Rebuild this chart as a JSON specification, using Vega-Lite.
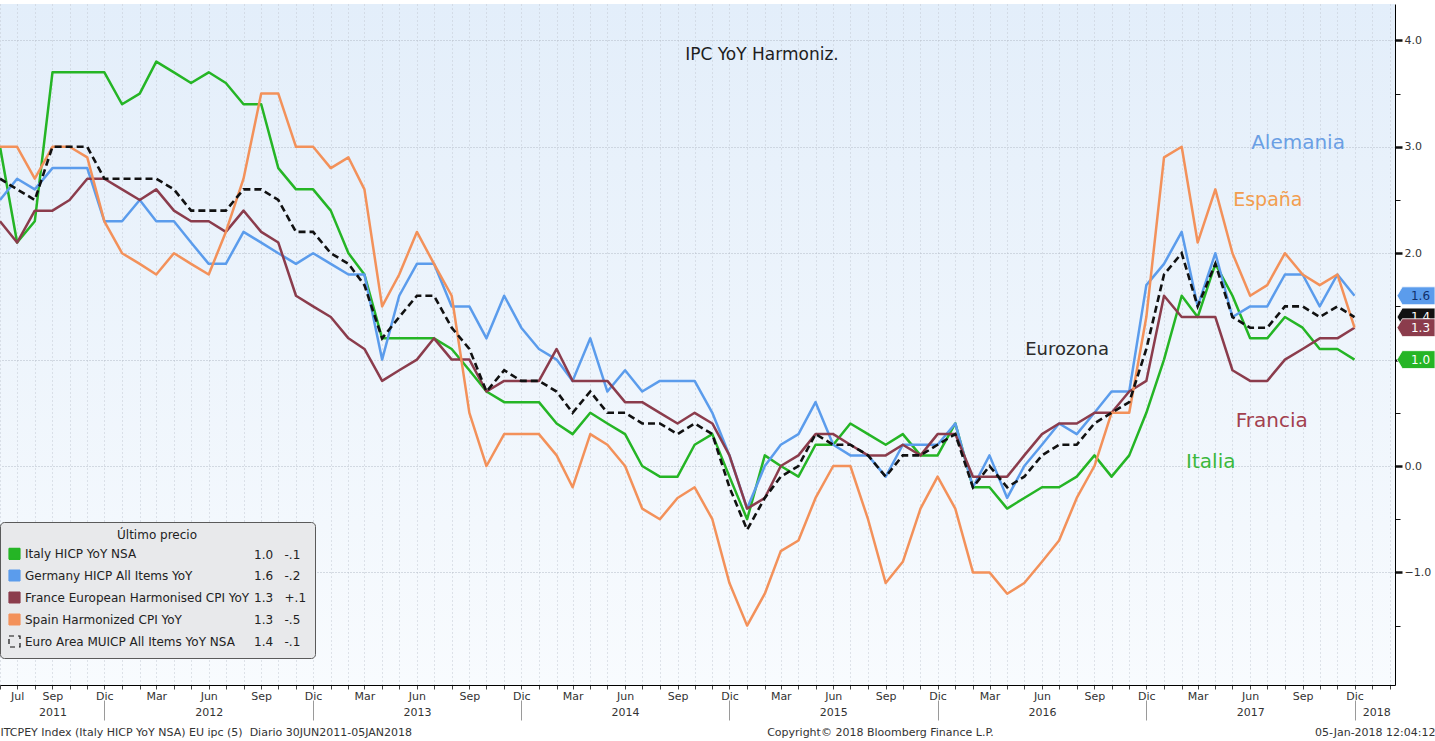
{
"$schema": "https://vega.github.io/schema/vega-lite/v6.json",
"width": 1395,
"height": 681,
"autosize": {"type": "none"},
"padding": {"left": 0, "top": 4, "right": 40, "bottom": 56},
"background": "#ffffff",
"config": {
  "font": "DejaVu Sans",
  "view": {"stroke": null, "fill": {"gradient": "linear", "x1": 0, "y1": 0, "x2": 0, "y2": 1, "stops": [{"offset": 0, "color": "#e3eefa"}, {"offset": 1, "color": "#f8fbfe"}]}}
},
"data": {
  "format": {"parse": {"d": "date:'%Y-%m'"}},
  "values": [
{"d":"2011-06","s":"Italy","v":3.0},{"d":"2011-07","s":"Italy","v":2.1},{"d":"2011-08","s":"Italy","v":2.3},{"d":"2011-09","s":"Italy","v":3.7},{"d":"2011-10","s":"Italy","v":3.7},{"d":"2011-11","s":"Italy","v":3.7},{"d":"2011-12","s":"Italy","v":3.7},
{"d":"2012-01","s":"Italy","v":3.4},{"d":"2012-02","s":"Italy","v":3.5},{"d":"2012-03","s":"Italy","v":3.8},{"d":"2012-04","s":"Italy","v":3.7},{"d":"2012-05","s":"Italy","v":3.6},{"d":"2012-06","s":"Italy","v":3.7},{"d":"2012-07","s":"Italy","v":3.6},{"d":"2012-08","s":"Italy","v":3.4},{"d":"2012-09","s":"Italy","v":3.4},{"d":"2012-10","s":"Italy","v":2.8},{"d":"2012-11","s":"Italy","v":2.6},{"d":"2012-12","s":"Italy","v":2.6},
{"d":"2013-01","s":"Italy","v":2.4},{"d":"2013-02","s":"Italy","v":2.0},{"d":"2013-03","s":"Italy","v":1.8},{"d":"2013-04","s":"Italy","v":1.2},{"d":"2013-05","s":"Italy","v":1.2},{"d":"2013-06","s":"Italy","v":1.2},{"d":"2013-07","s":"Italy","v":1.2},{"d":"2013-08","s":"Italy","v":1.1},{"d":"2013-09","s":"Italy","v":0.9},{"d":"2013-10","s":"Italy","v":0.7},{"d":"2013-11","s":"Italy","v":0.6},{"d":"2013-12","s":"Italy","v":0.6},
{"d":"2014-01","s":"Italy","v":0.6},{"d":"2014-02","s":"Italy","v":0.4},{"d":"2014-03","s":"Italy","v":0.3},{"d":"2014-04","s":"Italy","v":0.5},{"d":"2014-05","s":"Italy","v":0.4},{"d":"2014-06","s":"Italy","v":0.3},{"d":"2014-07","s":"Italy","v":0.0},{"d":"2014-08","s":"Italy","v":-0.1},{"d":"2014-09","s":"Italy","v":-0.1},{"d":"2014-10","s":"Italy","v":0.2},{"d":"2014-11","s":"Italy","v":0.3},{"d":"2014-12","s":"Italy","v":-0.1},
{"d":"2015-01","s":"Italy","v":-0.5},{"d":"2015-02","s":"Italy","v":0.1},{"d":"2015-03","s":"Italy","v":0.0},{"d":"2015-04","s":"Italy","v":-0.1},{"d":"2015-05","s":"Italy","v":0.2},{"d":"2015-06","s":"Italy","v":0.2},{"d":"2015-07","s":"Italy","v":0.4},{"d":"2015-08","s":"Italy","v":0.3},{"d":"2015-09","s":"Italy","v":0.2},{"d":"2015-10","s":"Italy","v":0.3},{"d":"2015-11","s":"Italy","v":0.1},{"d":"2015-12","s":"Italy","v":0.1},
{"d":"2016-01","s":"Italy","v":0.4},{"d":"2016-02","s":"Italy","v":-0.2},{"d":"2016-03","s":"Italy","v":-0.2},{"d":"2016-04","s":"Italy","v":-0.4},{"d":"2016-05","s":"Italy","v":-0.3},{"d":"2016-06","s":"Italy","v":-0.2},{"d":"2016-07","s":"Italy","v":-0.2},{"d":"2016-08","s":"Italy","v":-0.1},{"d":"2016-09","s":"Italy","v":0.1},{"d":"2016-10","s":"Italy","v":-0.1},{"d":"2016-11","s":"Italy","v":0.1},{"d":"2016-12","s":"Italy","v":0.5},
{"d":"2017-01","s":"Italy","v":1.0},{"d":"2017-02","s":"Italy","v":1.6},{"d":"2017-03","s":"Italy","v":1.4},{"d":"2017-04","s":"Italy","v":1.9},{"d":"2017-05","s":"Italy","v":1.6},{"d":"2017-06","s":"Italy","v":1.2},{"d":"2017-07","s":"Italy","v":1.2},{"d":"2017-08","s":"Italy","v":1.4},{"d":"2017-09","s":"Italy","v":1.3},{"d":"2017-10","s":"Italy","v":1.1},{"d":"2017-11","s":"Italy","v":1.1},{"d":"2017-12","s":"Italy","v":1.0},

{"d":"2011-06","s":"Germany","v":2.5},{"d":"2011-07","s":"Germany","v":2.7},{"d":"2011-08","s":"Germany","v":2.6},{"d":"2011-09","s":"Germany","v":2.8},{"d":"2011-10","s":"Germany","v":2.8},{"d":"2011-11","s":"Germany","v":2.8},{"d":"2011-12","s":"Germany","v":2.3},
{"d":"2012-01","s":"Germany","v":2.3},{"d":"2012-02","s":"Germany","v":2.5},{"d":"2012-03","s":"Germany","v":2.3},{"d":"2012-04","s":"Germany","v":2.3},{"d":"2012-05","s":"Germany","v":2.1},{"d":"2012-06","s":"Germany","v":1.9},{"d":"2012-07","s":"Germany","v":1.9},{"d":"2012-08","s":"Germany","v":2.2},{"d":"2012-09","s":"Germany","v":2.1},{"d":"2012-10","s":"Germany","v":2.0},{"d":"2012-11","s":"Germany","v":1.9},{"d":"2012-12","s":"Germany","v":2.0},
{"d":"2013-01","s":"Germany","v":1.9},{"d":"2013-02","s":"Germany","v":1.8},{"d":"2013-03","s":"Germany","v":1.8},{"d":"2013-04","s":"Germany","v":1.0},{"d":"2013-05","s":"Germany","v":1.6},{"d":"2013-06","s":"Germany","v":1.9},{"d":"2013-07","s":"Germany","v":1.9},{"d":"2013-08","s":"Germany","v":1.5},{"d":"2013-09","s":"Germany","v":1.5},{"d":"2013-10","s":"Germany","v":1.2},{"d":"2013-11","s":"Germany","v":1.6},{"d":"2013-12","s":"Germany","v":1.3},
{"d":"2014-01","s":"Germany","v":1.1},{"d":"2014-02","s":"Germany","v":1.0},{"d":"2014-03","s":"Germany","v":0.8},{"d":"2014-04","s":"Germany","v":1.2},{"d":"2014-05","s":"Germany","v":0.7},{"d":"2014-06","s":"Germany","v":0.9},{"d":"2014-07","s":"Germany","v":0.7},{"d":"2014-08","s":"Germany","v":0.8},{"d":"2014-09","s":"Germany","v":0.8},{"d":"2014-10","s":"Germany","v":0.8},{"d":"2014-11","s":"Germany","v":0.5},{"d":"2014-12","s":"Germany","v":0.1},
{"d":"2015-01","s":"Germany","v":-0.4},{"d":"2015-02","s":"Germany","v":0.0},{"d":"2015-03","s":"Germany","v":0.2},{"d":"2015-04","s":"Germany","v":0.3},{"d":"2015-05","s":"Germany","v":0.6},{"d":"2015-06","s":"Germany","v":0.2},{"d":"2015-07","s":"Germany","v":0.1},{"d":"2015-08","s":"Germany","v":0.1},{"d":"2015-09","s":"Germany","v":-0.1},{"d":"2015-10","s":"Germany","v":0.2},{"d":"2015-11","s":"Germany","v":0.2},{"d":"2015-12","s":"Germany","v":0.2},
{"d":"2016-01","s":"Germany","v":0.4},{"d":"2016-02","s":"Germany","v":-0.2},{"d":"2016-03","s":"Germany","v":0.1},{"d":"2016-04","s":"Germany","v":-0.3},{"d":"2016-05","s":"Germany","v":0.0},{"d":"2016-06","s":"Germany","v":0.2},{"d":"2016-07","s":"Germany","v":0.4},{"d":"2016-08","s":"Germany","v":0.3},{"d":"2016-09","s":"Germany","v":0.5},{"d":"2016-10","s":"Germany","v":0.7},{"d":"2016-11","s":"Germany","v":0.7},{"d":"2016-12","s":"Germany","v":1.7},
{"d":"2017-01","s":"Germany","v":1.9},{"d":"2017-02","s":"Germany","v":2.2},{"d":"2017-03","s":"Germany","v":1.5},{"d":"2017-04","s":"Germany","v":2.0},{"d":"2017-05","s":"Germany","v":1.4},{"d":"2017-06","s":"Germany","v":1.5},{"d":"2017-07","s":"Germany","v":1.5},{"d":"2017-08","s":"Germany","v":1.8},{"d":"2017-09","s":"Germany","v":1.8},{"d":"2017-10","s":"Germany","v":1.5},{"d":"2017-11","s":"Germany","v":1.8},{"d":"2017-12","s":"Germany","v":1.6},

{"d":"2011-06","s":"France","v":2.3},{"d":"2011-07","s":"France","v":2.1},{"d":"2011-08","s":"France","v":2.4},{"d":"2011-09","s":"France","v":2.4},{"d":"2011-10","s":"France","v":2.5},{"d":"2011-11","s":"France","v":2.7},{"d":"2011-12","s":"France","v":2.7},
{"d":"2012-01","s":"France","v":2.6},{"d":"2012-02","s":"France","v":2.5},{"d":"2012-03","s":"France","v":2.6},{"d":"2012-04","s":"France","v":2.4},{"d":"2012-05","s":"France","v":2.3},{"d":"2012-06","s":"France","v":2.3},{"d":"2012-07","s":"France","v":2.2},{"d":"2012-08","s":"France","v":2.4},{"d":"2012-09","s":"France","v":2.2},{"d":"2012-10","s":"France","v":2.1},{"d":"2012-11","s":"France","v":1.6},{"d":"2012-12","s":"France","v":1.5},
{"d":"2013-01","s":"France","v":1.4},{"d":"2013-02","s":"France","v":1.2},{"d":"2013-03","s":"France","v":1.1},{"d":"2013-04","s":"France","v":0.8},{"d":"2013-05","s":"France","v":0.9},{"d":"2013-06","s":"France","v":1.0},{"d":"2013-07","s":"France","v":1.2},{"d":"2013-08","s":"France","v":1.0},{"d":"2013-09","s":"France","v":1.0},{"d":"2013-10","s":"France","v":0.7},{"d":"2013-11","s":"France","v":0.8},{"d":"2013-12","s":"France","v":0.8},
{"d":"2014-01","s":"France","v":0.8},{"d":"2014-02","s":"France","v":1.1},{"d":"2014-03","s":"France","v":0.8},{"d":"2014-04","s":"France","v":0.8},{"d":"2014-05","s":"France","v":0.8},{"d":"2014-06","s":"France","v":0.6},{"d":"2014-07","s":"France","v":0.6},{"d":"2014-08","s":"France","v":0.5},{"d":"2014-09","s":"France","v":0.4},{"d":"2014-10","s":"France","v":0.5},{"d":"2014-11","s":"France","v":0.4},{"d":"2014-12","s":"France","v":0.1},
{"d":"2015-01","s":"France","v":-0.4},{"d":"2015-02","s":"France","v":-0.3},{"d":"2015-03","s":"France","v":0.0},{"d":"2015-04","s":"France","v":0.1},{"d":"2015-05","s":"France","v":0.3},{"d":"2015-06","s":"France","v":0.3},{"d":"2015-07","s":"France","v":0.2},{"d":"2015-08","s":"France","v":0.1},{"d":"2015-09","s":"France","v":0.1},{"d":"2015-10","s":"France","v":0.2},{"d":"2015-11","s":"France","v":0.1},{"d":"2015-12","s":"France","v":0.3},
{"d":"2016-01","s":"France","v":0.3},{"d":"2016-02","s":"France","v":-0.1},{"d":"2016-03","s":"France","v":-0.1},{"d":"2016-04","s":"France","v":-0.1},{"d":"2016-05","s":"France","v":0.1},{"d":"2016-06","s":"France","v":0.3},{"d":"2016-07","s":"France","v":0.4},{"d":"2016-08","s":"France","v":0.4},{"d":"2016-09","s":"France","v":0.5},{"d":"2016-10","s":"France","v":0.5},{"d":"2016-11","s":"France","v":0.7},{"d":"2016-12","s":"France","v":0.8},
{"d":"2017-01","s":"France","v":1.6},{"d":"2017-02","s":"France","v":1.4},{"d":"2017-03","s":"France","v":1.4},{"d":"2017-04","s":"France","v":1.4},{"d":"2017-05","s":"France","v":0.9},{"d":"2017-06","s":"France","v":0.8},{"d":"2017-07","s":"France","v":0.8},{"d":"2017-08","s":"France","v":1.0},{"d":"2017-09","s":"France","v":1.1},{"d":"2017-10","s":"France","v":1.2},{"d":"2017-11","s":"France","v":1.2},{"d":"2017-12","s":"France","v":1.3},

{"d":"2011-06","s":"Spain","v":3.0},{"d":"2011-07","s":"Spain","v":3.0},{"d":"2011-08","s":"Spain","v":2.7},{"d":"2011-09","s":"Spain","v":3.0},{"d":"2011-10","s":"Spain","v":3.0},{"d":"2011-11","s":"Spain","v":2.9},{"d":"2011-12","s":"Spain","v":2.3},
{"d":"2012-01","s":"Spain","v":2.0},{"d":"2012-02","s":"Spain","v":1.9},{"d":"2012-03","s":"Spain","v":1.8},{"d":"2012-04","s":"Spain","v":2.0},{"d":"2012-05","s":"Spain","v":1.9},{"d":"2012-06","s":"Spain","v":1.8},{"d":"2012-07","s":"Spain","v":2.2},{"d":"2012-08","s":"Spain","v":2.7},{"d":"2012-09","s":"Spain","v":3.5},{"d":"2012-10","s":"Spain","v":3.5},{"d":"2012-11","s":"Spain","v":3.0},{"d":"2012-12","s":"Spain","v":3.0},
{"d":"2013-01","s":"Spain","v":2.8},{"d":"2013-02","s":"Spain","v":2.9},{"d":"2013-03","s":"Spain","v":2.6},{"d":"2013-04","s":"Spain","v":1.5},{"d":"2013-05","s":"Spain","v":1.8},{"d":"2013-06","s":"Spain","v":2.2},{"d":"2013-07","s":"Spain","v":1.9},{"d":"2013-08","s":"Spain","v":1.6},{"d":"2013-09","s":"Spain","v":0.5},{"d":"2013-10","s":"Spain","v":0.0},{"d":"2013-11","s":"Spain","v":0.3},{"d":"2013-12","s":"Spain","v":0.3},
{"d":"2014-01","s":"Spain","v":0.3},{"d":"2014-02","s":"Spain","v":0.1},{"d":"2014-03","s":"Spain","v":-0.2},{"d":"2014-04","s":"Spain","v":0.3},{"d":"2014-05","s":"Spain","v":0.2},{"d":"2014-06","s":"Spain","v":0.0},{"d":"2014-07","s":"Spain","v":-0.4},{"d":"2014-08","s":"Spain","v":-0.5},{"d":"2014-09","s":"Spain","v":-0.3},{"d":"2014-10","s":"Spain","v":-0.2},{"d":"2014-11","s":"Spain","v":-0.5},{"d":"2014-12","s":"Spain","v":-1.1},
{"d":"2015-01","s":"Spain","v":-1.5},{"d":"2015-02","s":"Spain","v":-1.2},{"d":"2015-03","s":"Spain","v":-0.8},{"d":"2015-04","s":"Spain","v":-0.7},{"d":"2015-05","s":"Spain","v":-0.3},{"d":"2015-06","s":"Spain","v":0.0},{"d":"2015-07","s":"Spain","v":0.0},{"d":"2015-08","s":"Spain","v":-0.5},{"d":"2015-09","s":"Spain","v":-1.1},{"d":"2015-10","s":"Spain","v":-0.9},{"d":"2015-11","s":"Spain","v":-0.4},{"d":"2015-12","s":"Spain","v":-0.1},
{"d":"2016-01","s":"Spain","v":-0.4},{"d":"2016-02","s":"Spain","v":-1.0},{"d":"2016-03","s":"Spain","v":-1.0},{"d":"2016-04","s":"Spain","v":-1.2},{"d":"2016-05","s":"Spain","v":-1.1},{"d":"2016-06","s":"Spain","v":-0.9},{"d":"2016-07","s":"Spain","v":-0.7},{"d":"2016-08","s":"Spain","v":-0.3},{"d":"2016-09","s":"Spain","v":0.0},{"d":"2016-10","s":"Spain","v":0.5},{"d":"2016-11","s":"Spain","v":0.5},{"d":"2016-12","s":"Spain","v":1.4},
{"d":"2017-01","s":"Spain","v":2.9},{"d":"2017-02","s":"Spain","v":3.0},{"d":"2017-03","s":"Spain","v":2.1},{"d":"2017-04","s":"Spain","v":2.6},{"d":"2017-05","s":"Spain","v":2.0},{"d":"2017-06","s":"Spain","v":1.6},{"d":"2017-07","s":"Spain","v":1.7},{"d":"2017-08","s":"Spain","v":2.0},{"d":"2017-09","s":"Spain","v":1.8},{"d":"2017-10","s":"Spain","v":1.7},{"d":"2017-11","s":"Spain","v":1.8},{"d":"2017-12","s":"Spain","v":1.3},

{"d":"2011-06","s":"Euro","v":2.7},{"d":"2011-07","s":"Euro","v":2.6},{"d":"2011-08","s":"Euro","v":2.5},{"d":"2011-09","s":"Euro","v":3.0},{"d":"2011-10","s":"Euro","v":3.0},{"d":"2011-11","s":"Euro","v":3.0},{"d":"2011-12","s":"Euro","v":2.7},
{"d":"2012-01","s":"Euro","v":2.7},{"d":"2012-02","s":"Euro","v":2.7},{"d":"2012-03","s":"Euro","v":2.7},{"d":"2012-04","s":"Euro","v":2.6},{"d":"2012-05","s":"Euro","v":2.4},{"d":"2012-06","s":"Euro","v":2.4},{"d":"2012-07","s":"Euro","v":2.4},{"d":"2012-08","s":"Euro","v":2.6},{"d":"2012-09","s":"Euro","v":2.6},{"d":"2012-10","s":"Euro","v":2.5},{"d":"2012-11","s":"Euro","v":2.2},{"d":"2012-12","s":"Euro","v":2.2},
{"d":"2013-01","s":"Euro","v":2.0},{"d":"2013-02","s":"Euro","v":1.9},{"d":"2013-03","s":"Euro","v":1.7},{"d":"2013-04","s":"Euro","v":1.2},{"d":"2013-05","s":"Euro","v":1.4},{"d":"2013-06","s":"Euro","v":1.6},{"d":"2013-07","s":"Euro","v":1.6},{"d":"2013-08","s":"Euro","v":1.3},{"d":"2013-09","s":"Euro","v":1.1},{"d":"2013-10","s":"Euro","v":0.7},{"d":"2013-11","s":"Euro","v":0.9},{"d":"2013-12","s":"Euro","v":0.8},
{"d":"2014-01","s":"Euro","v":0.8},{"d":"2014-02","s":"Euro","v":0.7},{"d":"2014-03","s":"Euro","v":0.5},{"d":"2014-04","s":"Euro","v":0.7},{"d":"2014-05","s":"Euro","v":0.5},{"d":"2014-06","s":"Euro","v":0.5},{"d":"2014-07","s":"Euro","v":0.4},{"d":"2014-08","s":"Euro","v":0.4},{"d":"2014-09","s":"Euro","v":0.3},{"d":"2014-10","s":"Euro","v":0.4},{"d":"2014-11","s":"Euro","v":0.3},{"d":"2014-12","s":"Euro","v":-0.2},
{"d":"2015-01","s":"Euro","v":-0.6},{"d":"2015-02","s":"Euro","v":-0.3},{"d":"2015-03","s":"Euro","v":-0.1},{"d":"2015-04","s":"Euro","v":0.0},{"d":"2015-05","s":"Euro","v":0.3},{"d":"2015-06","s":"Euro","v":0.2},{"d":"2015-07","s":"Euro","v":0.2},{"d":"2015-08","s":"Euro","v":0.1},{"d":"2015-09","s":"Euro","v":-0.1},{"d":"2015-10","s":"Euro","v":0.1},{"d":"2015-11","s":"Euro","v":0.1},{"d":"2015-12","s":"Euro","v":0.2},
{"d":"2016-01","s":"Euro","v":0.3},{"d":"2016-02","s":"Euro","v":-0.2},{"d":"2016-03","s":"Euro","v":0.0},{"d":"2016-04","s":"Euro","v":-0.2},{"d":"2016-05","s":"Euro","v":-0.1},{"d":"2016-06","s":"Euro","v":0.1},{"d":"2016-07","s":"Euro","v":0.2},{"d":"2016-08","s":"Euro","v":0.2},{"d":"2016-09","s":"Euro","v":0.4},{"d":"2016-10","s":"Euro","v":0.5},{"d":"2016-11","s":"Euro","v":0.6},{"d":"2016-12","s":"Euro","v":1.1},
{"d":"2017-01","s":"Euro","v":1.8},{"d":"2017-02","s":"Euro","v":2.0},{"d":"2017-03","s":"Euro","v":1.5},{"d":"2017-04","s":"Euro","v":1.9},{"d":"2017-05","s":"Euro","v":1.4},{"d":"2017-06","s":"Euro","v":1.3},{"d":"2017-07","s":"Euro","v":1.3},{"d":"2017-08","s":"Euro","v":1.5},{"d":"2017-09","s":"Euro","v":1.5},{"d":"2017-10","s":"Euro","v":1.4},{"d":"2017-11","s":"Euro","v":1.5},{"d":"2017-12","s":"Euro","v":1.4}
  ]
},
"resolve": {"axis": {"x": "independent"}},
"layer": [
  {
    "transform": [{"filter": "datum.s !== 'Euro'"}],
    "mark": {"type": "line", "strokeWidth": 2.5, "strokeJoin": "round"},
    "encoding": {
      "x": {"field": "d", "type": "temporal",
        "scale": {"domain": [{"year": 2011, "month": 6, "date": 1}, {"year": 2018, "month": 2, "date": 10}]},
        "axis": {"orient": "bottom", "title": null, "tickCount": {"interval": "month", "step": 1},
          "labelExpr": "(year(datum.value)==2011&&month(datum.value)==5)?'':month(datum.value)==2?'Mar':month(datum.value)==5?'Jun':month(datum.value)==8?'Sep':month(datum.value)==11?'Dic':(month(datum.value)==6&&year(datum.value)==2011)?'Jul':''",
          "labelFont": "DejaVu Sans", "labelFontSize": 11, "labelColor": "#333333", "labelPadding": 1,
          "labelFlush": false, "labelOverlap": false, "labelBound": false,
          "tickSize": 4, "tickColor": "#444444", "domainColor": "#000000", "domainWidth": 1,
          "grid": true, "gridColor": "#c2c9d3", "gridDash": [1, 3], "gridWidth": 1}},
      "y": {"field": "v", "type": "quantitative",
        "scale": {"domain": [-2.058, 4.342], "nice": false, "zero": false},
        "axis": {"orient": "right", "title": null, "values": [-1.5, -1, -0.5, 0, 0.5, 1, 1.5, 2, 2.5, 3, 3.5, 4], "format": ".1f",
          "labelExpr": "(datum.value % 1 === 0 && datum.value !== 1) ? datum.label : ''",
          "tickSize": {"condition": {"test": "datum.value % 1 === 0", "value": 7}, "value": 5},
          "tickWidth": {"condition": {"test": "datum.value % 1 === 0", "value": 2.5}, "value": 1},
          "tickColor": "#111111", "domainColor": "#000000", "domainWidth": 1,
          "grid": true, "gridColor": "#b3bbc6", "gridDash": [1, 2],
          "gridOpacity": {"condition": {"test": "datum.value % 1 === 0", "value": 1}, "value": 0},
          "labelFont": "DejaVu Sans", "labelFontSize": 11, "labelColor": "#333333", "labelPadding": 2}},
      "color": {"field": "s", "type": "nominal",
        "scale": {"domain": ["Italy", "Germany", "France", "Spain", "Euro", "Italy_v", "Germany_v", "France_v", "Spain_v", "Euro_v"],
                  "range": ["#25b525", "#5b9cec", "#8b3c4c", "#f3915a", "#111111", "#25b525", "#5b9cec", "#8b3c4c", "#f3915a", "#111111"]},
        "legend": {"orient": "none", "legendX": 0, "legendY": 518, "title": "Último precio", "titleAnchor": "middle",
          "titleFont": "DejaVu Sans", "titleFontSize": 12, "titleFontWeight": "normal", "titleColor": "#222222", "titlePadding": 5,
          "columns": 2, "columnPadding": 0, "rowPadding": 5, "gridAlign": "each", "direction": "vertical",
          "symbolType": "square", "symbolSize": 121, "labelFont": "DejaVu Sans", "labelFontSize": 12, "labelColor": "#222222",
          "labelOffset": 4, "labelLimit": 400, "padding": 8, "fillColor": "#e8e9eb", "strokeColor": "#5a5a5a", "cornerRadius": 4,
          "labelExpr": "datum.label==='Italy'?'Italy HICP YoY NSA':datum.label==='Germany'?'Germany HICP All Items YoY':datum.label==='France'?'France European Harmonised CPI YoY':datum.label==='Spain'?'Spain Harmonized CPI YoY':datum.label==='Euro'?'Euro Area MUICP All Items YoY NSA':datum.label==='Italy_v'?'1.0\u00a0\u00a0 -.1':datum.label==='Germany_v'?'1.6\u00a0\u00a0 -.2':datum.label==='France_v'?'1.3\u00a0\u00a0 +.1':datum.label==='Spain_v'?'1.3\u00a0\u00a0 -.5':'1.4\u00a0\u00a0 -.1'",
          "encode": {
            "labels": {"update": {"dx": {"signal": "indexof(datum.value,'_v')>=0 ? -13 : 0"}}},
            "symbols": {"update": {
            "fill": {"signal": "datum.value==='Euro' ? '#e8e9eb' : scale('color', datum.value)"},
            "fillOpacity": {"signal": "datum.value==='Euro' ? 0 : 1"},
            "stroke": {"signal": "datum.value==='Euro' ? '#222222' : scale('color', datum.value)"},
            "strokeDash": {"signal": "datum.value==='Euro' ? [5,4] : [1,0]"},
            "strokeWidth": {"value": 1.2},
            "opacity": {"signal": "indexof(datum.value,'_v')>=0 ? 0 : 1"}}}}}}
    }
  },
  {
    "transform": [{"filter": "datum.s === 'Euro'"}],
    "mark": {"type": "line", "strokeWidth": 2.6, "strokeDash": [7, 4]},
    "encoding": {
      "x": {"field": "d", "type": "temporal", "scale": {"domain": [{"year": 2011, "month": 6, "date": 1}, {"year": 2018, "month": 2, "date": 10}]}, "axis": null},
      "y": {"field": "v", "type": "quantitative", "scale": {"domain": [-2.058, 4.342], "nice": false, "zero": false}},
      "color": {"field": "s", "type": "nominal",
        "scale": {"domain": ["Italy", "Germany", "France", "Spain", "Euro", "Italy_v", "Germany_v", "France_v", "Spain_v", "Euro_v"],
                  "range": ["#25b525", "#5b9cec", "#8b3c4c", "#f3915a", "#111111", "#25b525", "#5b9cec", "#8b3c4c", "#f3915a", "#111111"]}}
    }
  },
  {
    "transform": [{"filter": "year(datum.d)===2017 && month(datum.d)===11 && (datum.s==='Spain' || datum.s==='Euro')"}],
    "mark": {"type": "point", "shape": "M-1,0L-0.72,-0.47L1,-0.47L1,0.47L-0.72,0.47Z", "size": 1444, "filled": true, "opacity": 1, "xOffset": 61.5, "stroke": "#ffffff", "strokeWidth": 0.8, "clip": false},
    "encoding": {
      "x": {"field": "d", "type": "temporal", "scale": {"domain": [{"year": 2011, "month": 6, "date": 1}, {"year": 2018, "month": 2, "date": 10}]},
        "axis": {"orient": "bottom", "offset": 15, "labels": false, "domain": false, "grid": false, "ticks": true, "tickSize": 20, "tickColor": "#9a9a9a", "tickWidth": 1,
          "values": [{"year": 2011, "month": 12, "date": 1}, {"year": 2012, "month": 12, "date": 1}, {"year": 2013, "month": 12, "date": 1}, {"year": 2014, "month": 12, "date": 1}, {"year": 2015, "month": 12, "date": 1}, {"year": 2016, "month": 12, "date": 1}, {"year": 2017, "month": 12, "date": 1}],
          "title": "Copyright© 2018 Bloomberg Finance L.P.", "titleX": 880, "titleY": 35, "titleAlign": "center", "titleBaseline": "alphabetic",
          "titleFont": "DejaVu Sans", "titleFontSize": 11, "titleFontWeight": "normal", "titleColor": "#333333"}},
      "y": {"field": "v", "type": "quantitative", "scale": {"domain": [-2.058, 4.342], "nice": false, "zero": false}},
      "color": {"field": "s", "type": "nominal",
        "scale": {"domain": ["Italy", "Germany", "France", "Spain", "Euro", "Italy_v", "Germany_v", "France_v", "Spain_v", "Euro_v"],
                  "range": ["#25b525", "#5b9cec", "#8b3c4c", "#f3915a", "#111111", "#25b525", "#5b9cec", "#8b3c4c", "#f3915a", "#111111"]}}
    }
  },
  {
    "transform": [{"filter": "year(datum.d)===2017 && month(datum.d)===11 && datum.s==='Euro'"}],
    "mark": {"type": "text", "xOffset": 66, "font": "DejaVu Sans", "fontSize": 12, "align": "center", "baseline": "middle", "clip": false},
    "encoding": {
      "x": {"field": "d", "type": "temporal", "scale": {"domain": [{"year": 2011, "month": 6, "date": 1}, {"year": 2018, "month": 2, "date": 10}]},
        "axis": {"orient": "bottom", "labels": false, "ticks": false, "domain": false, "grid": false,
          "title": "05-Jan-2018 12:04:12", "titleX": 1435, "titleY": 50, "titleAlign": "right", "titleBaseline": "alphabetic",
          "titleFont": "DejaVu Sans", "titleFontSize": 11, "titleFontWeight": "normal", "titleColor": "#333333"}},
      "y": {"field": "v", "type": "quantitative", "scale": {"domain": [-2.058, 4.342], "nice": false, "zero": false}},
      "text": {"field": "v", "type": "quantitative", "format": ".1f"},
      "fill": {"value": "#ffffff"}
    }
  },
  {
    "transform": [{"filter": "year(datum.d)===2017 && month(datum.d)===11 && (datum.s==='Italy' || datum.s==='Germany' || datum.s==='France')"}],
    "mark": {"type": "point", "shape": "M-1,0L-0.72,-0.47L1,-0.47L1,0.47L-0.72,0.47Z", "size": 1444, "filled": true, "opacity": 1, "xOffset": 61.5, "stroke": "#ffffff", "strokeWidth": 0.8, "clip": false},
    "encoding": {
      "x": {"field": "d", "type": "temporal", "scale": {"domain": [{"year": 2011, "month": 6, "date": 1}, {"year": 2018, "month": 2, "date": 10}]}, "axis": null},
      "y": {"field": "v", "type": "quantitative", "scale": {"domain": [-2.058, 4.342], "nice": false, "zero": false}},
      "color": {"field": "s", "type": "nominal",
        "scale": {"domain": ["Italy", "Germany", "France", "Spain", "Euro", "Italy_v", "Germany_v", "France_v", "Spain_v", "Euro_v"],
                  "range": ["#25b525", "#5b9cec", "#8b3c4c", "#f3915a", "#111111", "#25b525", "#5b9cec", "#8b3c4c", "#f3915a", "#111111"]}}
    }
  },
  {
    "transform": [{"filter": "year(datum.d)===2017 && month(datum.d)===11 && (datum.s==='Italy' || datum.s==='Germany' || datum.s==='France')"}],
    "mark": {"type": "text", "xOffset": 66, "font": "DejaVu Sans", "fontSize": 12, "align": "center", "baseline": "middle", "clip": false},
    "encoding": {
      "x": {"field": "d", "type": "temporal", "scale": {"domain": [{"year": 2011, "month": 6, "date": 1}, {"year": 2018, "month": 2, "date": 10}]}, "axis": null},
      "y": {"field": "v", "type": "quantitative", "scale": {"domain": [-2.058, 4.342], "nice": false, "zero": false}},
      "text": {"field": "v", "type": "quantitative", "format": ".1f"},
      "fill": {"condition": {"test": "datum.s==='Germany'", "value": "#10306c"}, "value": "#ffffff"}
    }
  },
  {
    "data": {
      "format": {"parse": {"d": "date:'%Y-%m-%d'"}},
      "values": [
        {"t": "IPC YoY Harmoniz.", "d": "2015-01-27", "v": 3.86},
        {"t": "Alemania", "d": "2017-08-24", "v": 3.04},
        {"t": "España", "d": "2017-07-02", "v": 2.5},
        {"t": "Eurozona", "d": "2016-07-15", "v": 1.09},
        {"t": "Francia", "d": "2017-07-09", "v": 0.42},
        {"t": "Italia", "d": "2017-03-24", "v": 0.04}
      ]
    },
    "mark": {"type": "text", "font": "DejaVu Sans", "align": "center", "baseline": "middle"},
    "encoding": {
      "x": {"field": "d", "type": "temporal", "scale": {"domain": [{"year": 2011, "month": 6, "date": 1}, {"year": 2018, "month": 2, "date": 10}]},
        "axis": {"orient": "bottom", "offset": 19, "ticks": false, "domain": false, "grid": false,
          "values": [{"year": 2011, "month": 9, "date": 1}, {"year": 2012, "month": 6, "date": 1}, {"year": 2013, "month": 6, "date": 1}, {"year": 2014, "month": 6, "date": 1}, {"year": 2015, "month": 6, "date": 1}, {"year": 2016, "month": 6, "date": 1}, {"year": 2017, "month": 6, "date": 1}, {"year": 2018, "month": 1, "date": 8}],
          "labelExpr": "timeFormat(datum.value, '%Y')", "labelFont": "DejaVu Sans", "labelFontSize": 11, "labelColor": "#333333", "labelPadding": 2,
          "labelFlush": false, "labelOverlap": false, "labelBound": false,
          "title": "ITCPEY Index (Italy HICP YoY NSA) EU ipc (5)\u00a0 Diario 30JUN2011-05JAN2018", "titleX": 0, "titleY": 31, "titleAlign": "left", "titleAnchor": "start", "titleBaseline": "alphabetic",
          "titleFont": "DejaVu Sans", "titleFontSize": 11, "titleFontWeight": "normal", "titleColor": "#333333"}},
      "y": {"field": "v", "type": "quantitative", "scale": {"domain": [-2.058, 4.342], "nice": false, "zero": false}},
      "text": {"field": "t", "type": "nominal"},
      "fill": {"condition": [
        {"test": "datum.t==='Alemania'", "value": "#6b9fe4"},
        {"test": "datum.t==='España'", "value": "#f29d4f"},
        {"test": "datum.t==='Francia'", "value": "#a3404e"},
        {"test": "datum.t==='Italia'", "value": "#3cb83c"},
        {"test": "datum.t==='Eurozona'", "value": "#2b2b2b"}], "value": "#1e1e1e"},
      "size": {"condition": [
        {"test": "datum.t==='IPC YoY Harmoniz.'", "value": 17},
        {"test": "datum.t==='Eurozona'", "value": 18},
        {"test": "datum.t==='España'", "value": 19}], "value": 20}
    }
  }
]
}
